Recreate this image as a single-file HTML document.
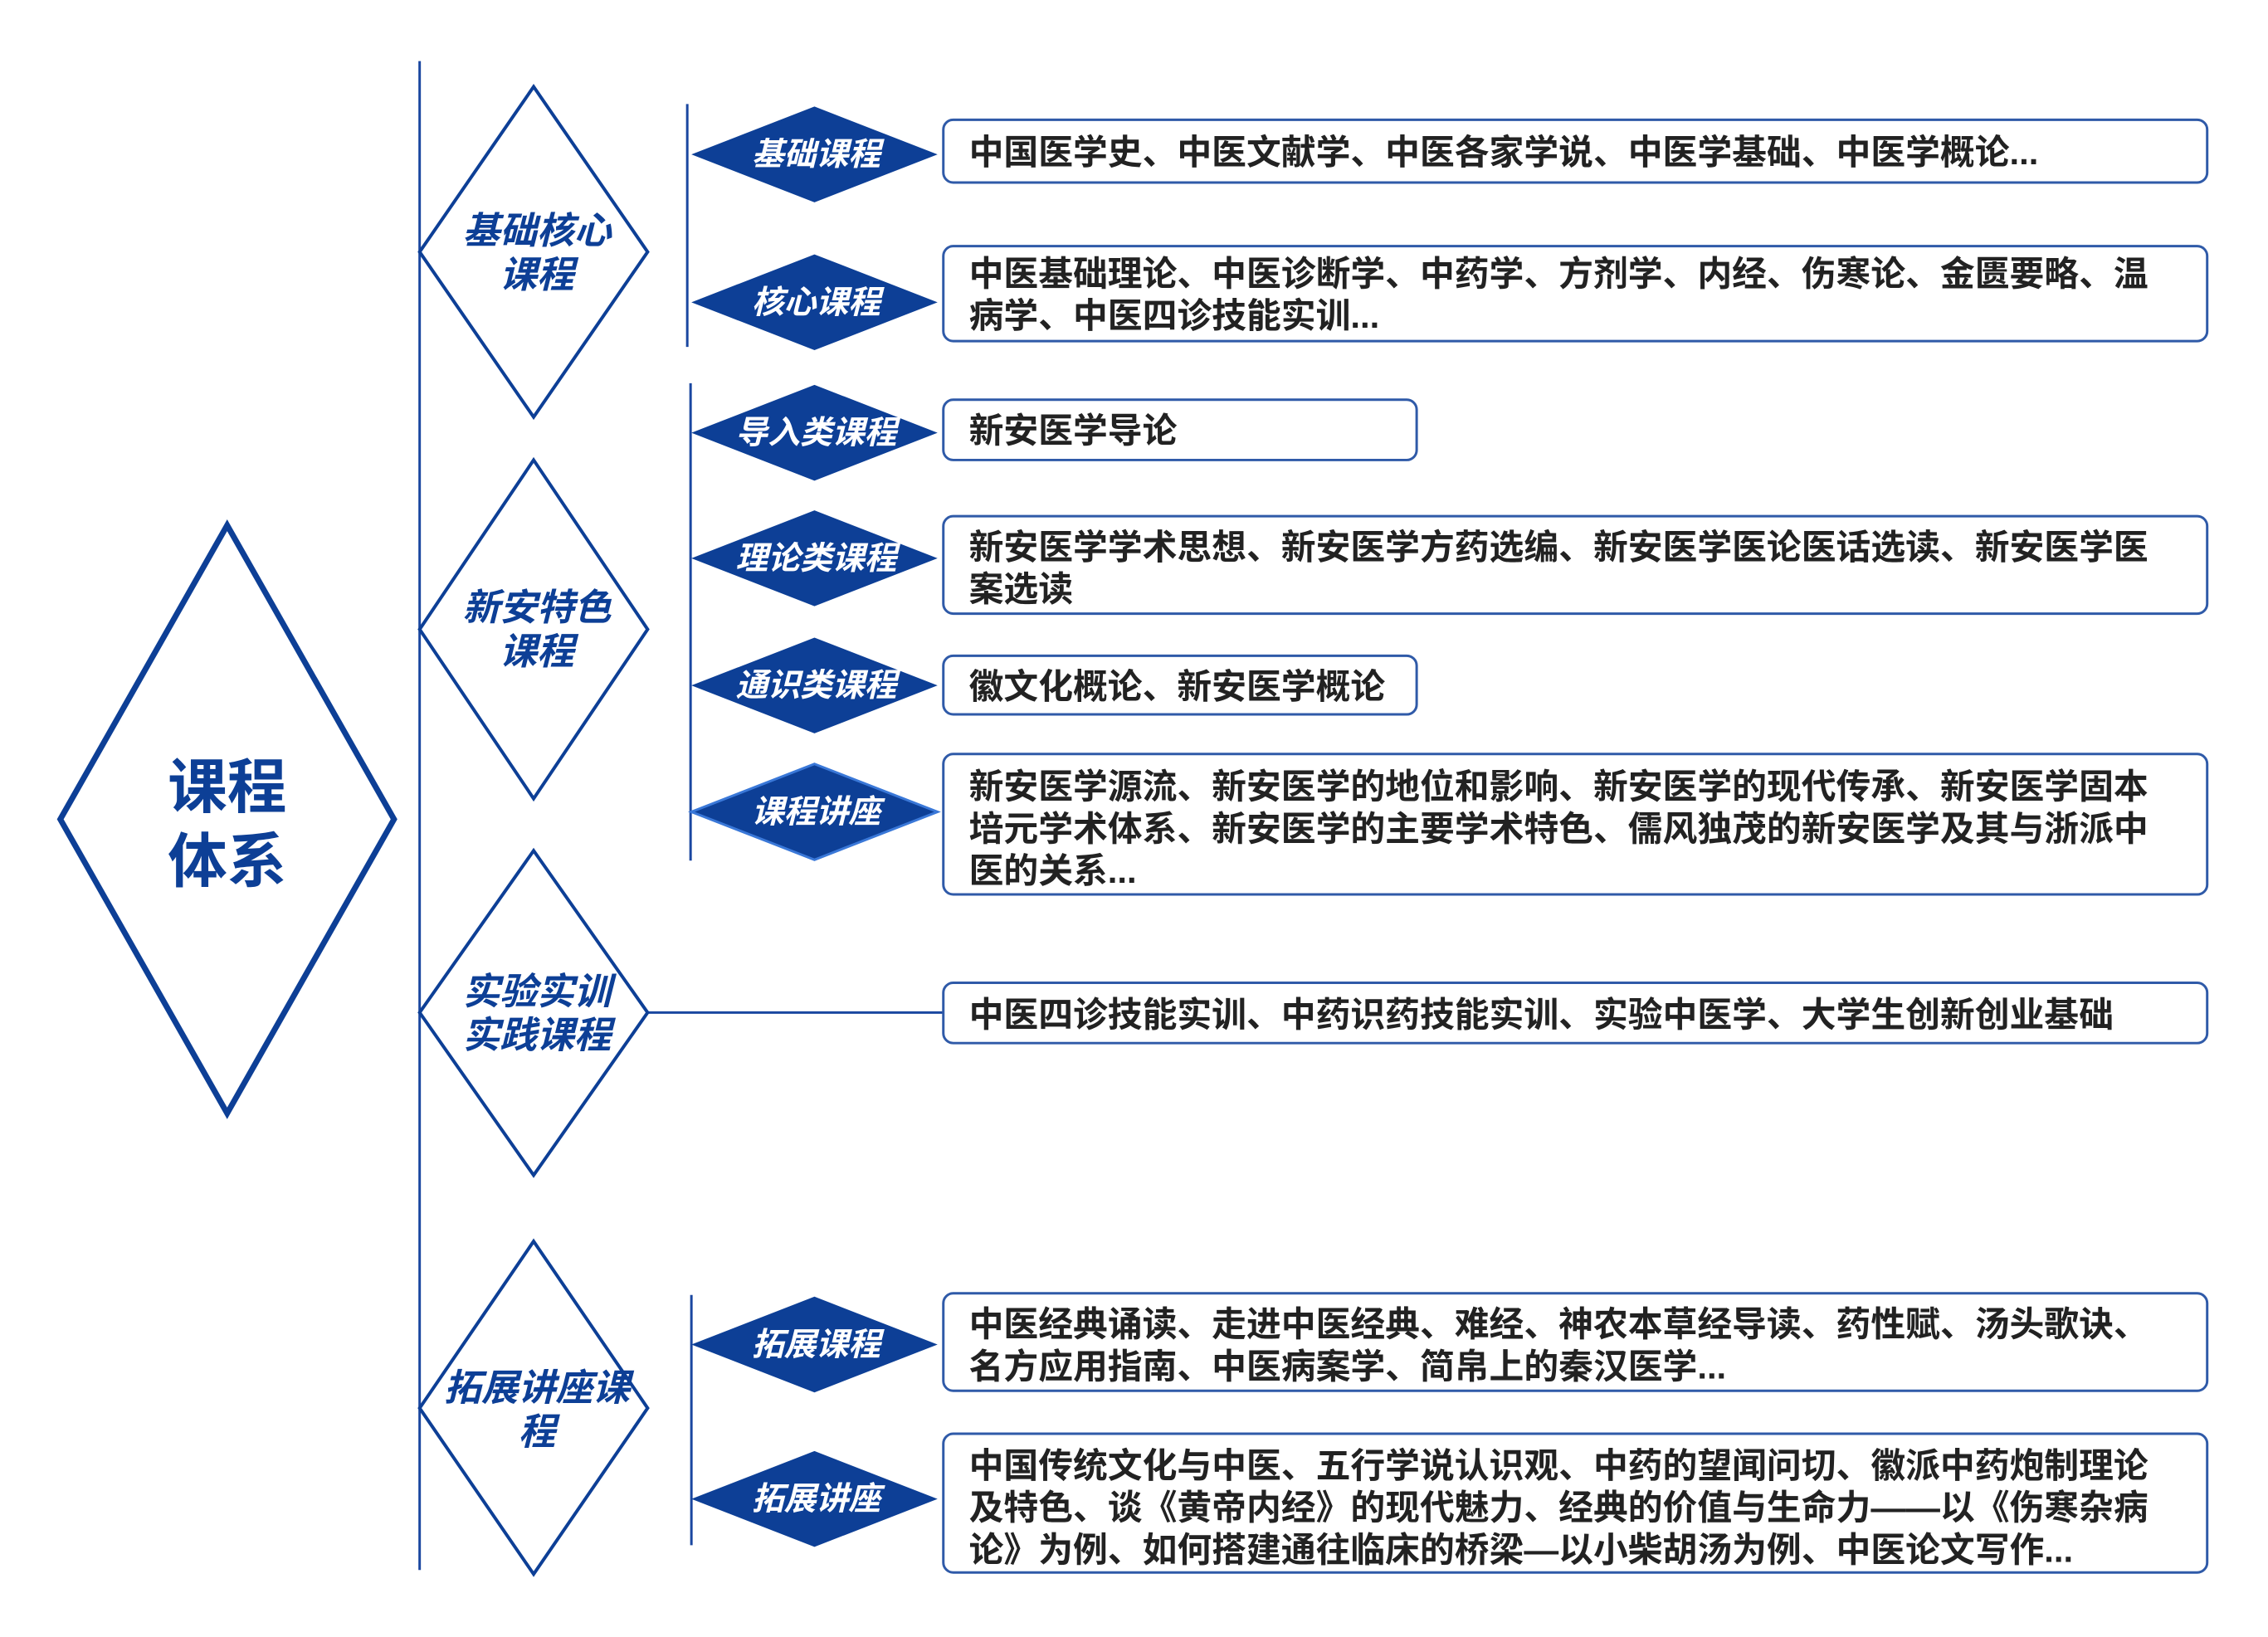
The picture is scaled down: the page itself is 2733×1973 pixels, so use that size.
<!DOCTYPE html>
<html><head><meta charset="utf-8"><style>
html,body{margin:0;padding:0;background:#fff;}
body{width:2733px;height:1973px;position:relative;overflow:hidden;}
svg{position:absolute;left:0;top:0;}
.bt{font-family:"Liberation Sans","Noto Sans CJK SC",sans-serif;font-weight:bold;font-size:42px;fill:#222;}
.st{font-family:"Liberation Sans","Noto Sans CJK SC",sans-serif;font-weight:bold;font-size:45px;fill:#0d3f96;font-style:italic;}
.wt{font-family:"Liberation Sans","Noto Sans CJK SC",sans-serif;font-weight:bold;font-size:39px;fill:#fff;font-style:italic;}
</style></head><body>
<svg width="2733" height="1973" viewBox="0 0 2733 1973">
<g transform="scale(0.9954)">
<g stroke="#1a47a0" stroke-width="3" fill="none">
<line x1="508" y1="74" x2="508" y2="1901"/>
<line x1="832" y1="126" x2="832" y2="420"/>
<line x1="836" y1="464" x2="836" y2="1042"/>
<line x1="837" y1="1568" x2="837" y2="1871"/>
<line x1="785" y1="1226" x2="1142" y2="1226"/>
</g>
<polygon points="275,636 477,992 275,1348 73,992" fill="none" stroke="#0d3f96" stroke-width="7"/>
<text x="275" y="978" text-anchor="middle" font-family="Liberation Sans,Noto Sans CJK SC,sans-serif" font-weight="bold" font-size="72" fill="#0d3f96">课程</text>
<text x="275" y="1068" text-anchor="middle" font-family="Liberation Sans,Noto Sans CJK SC,sans-serif" font-weight="bold" font-size="72" fill="#0d3f96">体系</text>
<g fill="none" stroke="#0d3f96" stroke-width="4">
<polygon points="646,105 784,305 646,505 508,305"/>
<polygon points="646,557 784,762 646,967 508,762"/>
<polygon points="646,1030 784,1226 646,1423 508,1226"/>
<polygon points="646,1503 784,1705 646,1906 508,1705"/>
</g>
<g text-anchor="middle">
<text class="st" x="650" y="295">基础核心</text><text class="st" x="650" y="348">课程</text>
<text class="st" x="650" y="751">新安特色</text><text class="st" x="650" y="804">课程</text>
<text class="st" x="650" y="1216">实验实训</text><text class="st" x="650" y="1269">实践课程</text>
<text class="st" x="650" y="1696">拓展讲座课</text><text class="st" x="650" y="1749">程</text>
</g>
<g fill="#0d3f96">
<polygon points="986,129 1135,187 986,245 837,187"/>
<polygon points="986,308 1135,366 986,424 837,366"/>
<polygon points="986,466 1135,524 986,582 837,524"/>
<polygon points="986,618 1135,676 986,734 837,676"/>
<polygon points="986,772 1135,830 986,888 837,830"/>
<polygon points="986,925 1135,983 986,1041 837,983" stroke="#3a78d8" stroke-width="3"/>
<polygon points="986,1570 1135,1628 986,1686 837,1628"/>
<polygon points="986,1757 1135,1815 986,1873 837,1815"/>
</g>
<g text-anchor="middle">
<text class="wt" x="988" y="200">基础课程</text>
<text class="wt" x="988" y="379">核心课程</text>
<text class="wt" x="988" y="537">导入类课程</text>
<text class="wt" x="988" y="689">理论类课程</text>
<text class="wt" x="988" y="843">通识类课程</text>
<text class="wt" x="988" y="996">课程讲座</text>
<text class="wt" x="988" y="1641">拓展课程</text>
<text class="wt" x="988" y="1828">拓展讲座</text>
</g>
<g fill="#fff" stroke="#2f5aa8" stroke-width="3">
<rect x="1142" y="145" width="1530" height="76" rx="12"/>
<rect x="1142" y="298" width="1530" height="115" rx="12"/>
<rect x="1142" y="484" width="573" height="73" rx="12"/>
<rect x="1142" y="625" width="1530" height="118" rx="12"/>
<rect x="1142" y="794" width="573" height="71" rx="12"/>
<rect x="1142" y="913" width="1530" height="170" rx="12"/>
<rect x="1142" y="1190" width="1530" height="73" rx="12"/>
<rect x="1142" y="1566" width="1530" height="118" rx="12"/>
<rect x="1142" y="1736" width="1530" height="168" rx="12"/>
</g>
<text class="bt" x="1173" y="199">中国医学史、中医文献学、中医各家学说、中医学基础、中医学概论...</text>
<text class="bt" x="1173" y="346">中医基础理论、中医诊断学、中药学、方剂学、内经、伤寒论、金匮要略、温</text>
<text class="bt" x="1173" y="397">病学、中医四诊技能实训...</text>
<text class="bt" x="1173" y="536">新安医学导论</text>
<text class="bt" x="1173" y="677">新安医学学术思想、新安医学方药选编、新安医学医论医话选读、新安医学医</text>
<text class="bt" x="1173" y="728">案选读</text>
<text class="bt" x="1173" y="846">徽文化概论、新安医学概论</text>
<text class="bt" x="1173" y="967">新安医学源流、新安医学的地位和影响、新安医学的现代传承、新安医学固本</text>
<text class="bt" x="1173" y="1018">培元学术体系、新安医学的主要学术特色、儒风独茂的新安医学及其与浙派中</text>
<text class="bt" x="1173" y="1069">医的关系...</text>
<text class="bt" x="1173" y="1243">中医四诊技能实训、中药识药技能实训、实验中医学、大学生创新创业基础</text>
<text class="bt" x="1173" y="1618">中医经典诵读、走进中医经典、难经、神农本草经导读、药性赋、汤头歌诀、</text>
<text class="bt" x="1173" y="1669">名方应用指南、中医病案学、简帛上的秦汉医学...</text>
<text class="bt" x="1173" y="1789">中国传统文化与中医、五行学说认识观、中药的望闻问切、徽派中药炮制理论</text>
<text class="bt" x="1173" y="1840">及特色、谈《黄帝内经》的现代魅力、经典的价值与生命力——以《伤寒杂病</text>
<text class="bt" x="1173" y="1891">论》为例、如何搭建通往临床的桥梁—以小柴胡汤为例、中医论文写作...</text>
</g>
</svg>
</body></html>
